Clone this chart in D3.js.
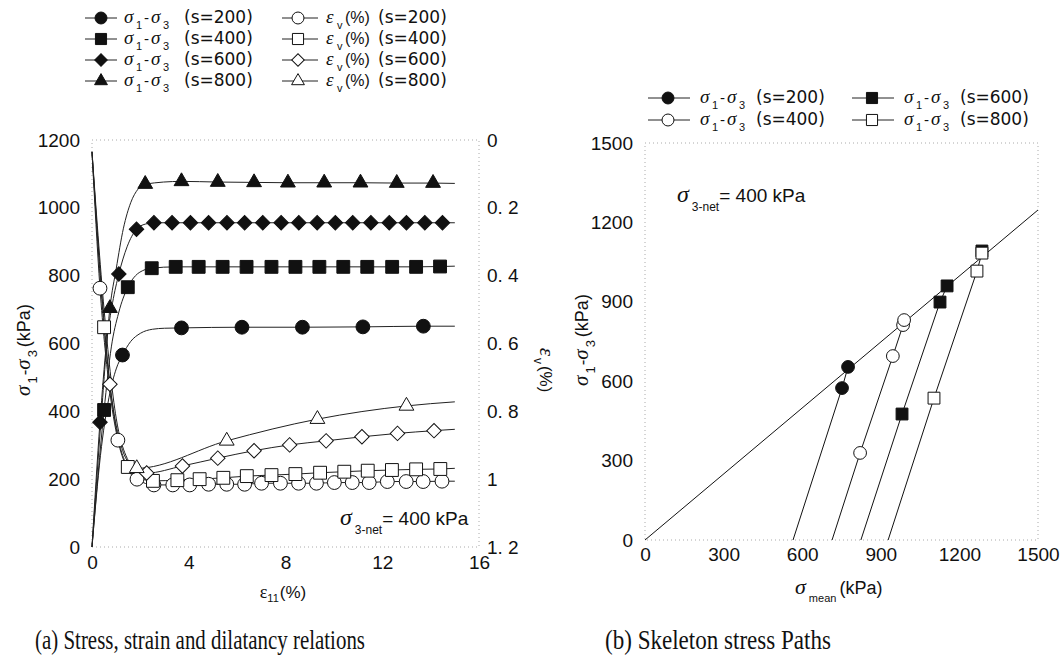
<!DOCTYPE html>
<html>
<head>
<meta charset="utf-8">
<script src="https://cdn.jsdelivr.net/npm/d3@7"></script>
<style>
  body { margin: 0; background: #fff; }
  svg { display: block; }
</style>
</head>
<body>
<svg id="fig" width="1063" height="664"></svg>
<script>
// ---------- Panel (a): stress–strain and dilatancy, σ3-net = 400 kPa ----------
const strainTicks = [0, 4, 8, 12, 16];
const devTicks = [0, 200, 400, 600, 800, 1000, 1200];
const volTicks = [0, 0.2, 0.4, 0.6, 0.8, 1.0, 1.2];
const volTickLabels = ["0", "0. 2", "0. 4", "0. 6", "0. 8", "1", "1. 2"];
const suctions = [200, 400, 600, 800];

// deviator stress σ1−σ3 (kPa) vs ε11 (%) — measured points
const devMarks200 = [[1.26, 566], [3.7, 646], [6.2, 648], [8.7, 648], [11.2, 649], [13.7, 651]];
const devMarks400 = [[0.5, 404], [1.48, 766], [2.47, 822], [3.46, 826], [4.41, 826], [5.40, 826], [6.39, 826],
  [7.42, 826], [8.41, 826], [9.40, 826], [10.39, 826], [11.38, 826], [12.41, 826], [13.40, 826], [14.39, 827]];
const devMarks600 = [[0.33, 368], [1.11, 805], [1.84, 937], [2.56, 956], [3.31, 956], [4.07, 956], [4.82, 956],
  [5.58, 956], [6.31, 956], [7.06, 956], [7.82, 956], [8.55, 956], [9.31, 956], [10.06, 956], [10.78, 956],
  [11.53, 956], [12.29, 956], [13.0, 956], [13.76, 956], [14.49, 956]];
const devMarks800 = [[0.74, 704], [2.2, 1070], [3.7, 1078], [5.2, 1076], [6.7, 1075], [8.1, 1074], [9.6, 1074],
  [11.1, 1074], [12.6, 1073], [14.1, 1073]];
// extra vertices of the fitted curves (unmarked)
const devBend200 = [[0, 0], [0.35, 270], [0.7, 440], [1.0, 525], [1.6, 606], [2.0, 630], [2.5, 642], [3.0, 645], [15, 651]];
const devBend400 = [[0, 0], [0.8, 590], [1.1, 690], [1.8, 800], [2.1, 815], [15, 828]];
const devBend600 = [[0, 0], [0.6, 600], [0.85, 720], [1.45, 885], [2.2, 952], [15, 956]];
const devBend800 = [[0, 0], [0.4, 400], [1.0, 820], [1.3, 940], [1.6, 1015], [1.9, 1055], [15, 1072]];

// volumetric strain εv (%) vs ε11 (%) — measured points
const volMarks200 = [[0.33, 0.437], [1.07, 0.885], [1.86, 1.0], [2.56, 1.017], [3.34, 1.017], [4.04, 1.017],
  [4.82, 1.015], [5.57, 1.015], [6.31, 1.015], [7.01, 1.012], [7.79, 1.012], [8.54, 1.012], [9.28, 1.012],
  [10.02, 1.01], [10.76, 1.01], [11.46, 1.01], [12.21, 1.007], [12.99, 1.007], [13.69, 1.007], [14.47, 1.006]];
const volMarks400 = [[0.5, 0.552], [1.48, 0.964], [2.52, 1.005], [3.53, 1.003], [4.45, 1.0], [5.43, 0.996],
  [6.4, 0.991], [7.42, 0.988], [8.41, 0.985], [9.43, 0.981], [10.43, 0.978], [11.4, 0.975], [12.4, 0.973],
  [13.4, 0.971], [14.4, 0.97]];
const volMarks600 = [[0.74, 0.72], [2.26, 0.982], [3.74, 0.961], [5.2, 0.938], [6.7, 0.916], [8.17, 0.899],
  [9.68, 0.887], [11.16, 0.875], [12.63, 0.865], [14.14, 0.857]];
const volMarks800 = [[1.85, 0.968], [5.57, 0.887], [9.32, 0.823], [13.0, 0.784]];
const volBend200 = [[0, 0.035], [0.7, 0.72], [1.4, 0.96], [15, 1.006]];
const volBend400 = [[0, 0.035], [1.0, 0.85], [2.0, 0.998], [15, 0.968]];
const volBend600 = [[0, 0.035], [0.35, 0.4], [1.2, 0.9], [1.7, 0.965], [15, 0.853]];
const volBend800 = [[0, 0.035], [0.5, 0.5], [1.0, 0.82], [1.4, 0.93], [15, 0.772]];

// ---------- Panel (b): skeleton stress paths ----------
const meanTicks = [0, 300, 600, 900, 1200, 1500];
const devTicksB = [0, 300, 600, 900, 1200, 1500];
const failureLine = [[0, 0], [1500, 1247]];
const pathStart = [565, 714, 824, 928];            // σmean at the start of shearing (kPa)
const pathMarks200 = [[752, 574], [775, 654]];
const pathMarks400 = [[821, 329], [946, 695], [985, 812], [989, 831]];
const pathMarks600 = [[981, 476], [1126, 899], [1153, 960]];
const pathExtra600 = [[1286, 1092]];
const pathMarks800 = [[1103, 536], [1267, 1016], [1286, 1084]];

// ---------- drawing ----------
const svg = d3.select("#fig");
svg.append("rect").attr("width", 1063).attr("height", 664).attr("fill", "#fff");

const SANS = "'Liberation Sans', Arial, sans-serif";
const WIDE = "'DejaVu Sans', sans-serif";
const SERIF = "'Liberation Serif', 'Times New Roman', serif";
const INK = "#111";

const sym = {
  circle: { type: d3.symbolCircle, rot: 0 },
  square: { type: d3.symbolSquare, rot: 0 },
  diamond: { type: d3.symbolSquare, rot: 45 },
  triangle: { type: d3.symbolTriangle, rot: 0 }
};
const symSize = { circle: 150, square: 165, diamond: 105, triangle: 95 };

function drawMarks(g, data, sx, sy, kind, filled, scale = 1) {
  const gen = d3.symbol().type(sym[kind].type).size(symSize[kind] * scale);
  g.selectAll(null).data(data).join("path")
    .attr("d", gen)
    .attr("transform", d => `translate(${sx(d[0])},${sy(d[1])}) rotate(${sym[kind].rot})`)
    .attr("fill", filled ? INK : "#fff")
    .attr("stroke", INK)
    .attr("stroke-width", 1);
}

function styleAxis(g, size) {
  g.select(".domain").remove();
  g.attr("font-family", SANS).attr("font-size", size);
  g.selectAll("text").attr("fill", INK);
}

function frame(g, sx, sy) {
  const [x0, x1] = sx.range(), [y0, y1] = sy.range();
  g.append("rect")
    .attr("x", Math.min(x0, x1)).attr("y", Math.min(y0, y1))
    .attr("width", Math.abs(x1 - x0)).attr("height", Math.abs(y1 - y0))
    .attr("fill", "none").attr("stroke", "#aaa").attr("stroke-width", 1)
    .attr("stroke-dasharray", "1,3");
}

// "σ1-σ3" laid out piece by piece from x0 along the text baseline
function sigmaDiff(t, x0, big, small, drop) {
  t.append("tspan").attr("x", x0).attr("font-family", SERIF).attr("font-style", "italic")
    .attr("font-size", big).text("σ");
  t.append("tspan").attr("x", x0 + 12).attr("font-size", small).attr("dy", drop).text("1");
  t.append("tspan").attr("x", x0 + 20).attr("font-size", big * 0.8).attr("dy", -drop).text("-");
  t.append("tspan").attr("x", x0 + 27).attr("font-family", SERIF).attr("font-style", "italic")
    .attr("font-size", big).text("σ");
  t.append("tspan").attr("x", x0 + 39).attr("font-size", small).attr("dy", drop).text("3");
}
// same, for rotated labels (positions relative to the text's own origin)
function sigmaDiffFlow(t, big, small, drop) {
  t.append("tspan").attr("font-family", SERIF).attr("font-style", "italic").attr("font-size", big).text("σ");
  t.append("tspan").attr("font-size", small).attr("dx", 2).attr("dy", drop).text("1");
  t.append("tspan").attr("font-size", big * 0.8).attr("dx", 1).attr("dy", -drop).text("-");
  t.append("tspan").attr("font-family", SERIF).attr("font-style", "italic").attr("font-size", big).text("σ");
  t.append("tspan").attr("font-size", small).attr("dx", 2).attr("dy", drop).text("3");
}

const plain = d3.format("d");

// ===== Panel (a) =====
const gA = svg.append("g");
const xA = d3.scaleLinear().domain([0, 16]).range([92, 479]);
const yA = d3.scaleLinear().domain([0, 1200]).range([547, 140]);
const yV = d3.scaleLinear().domain([0, 1.2]).range([140, 547]);

frame(gA, xA, yA);
gA.append("g").attr("transform", "translate(92,0)")
  .call(d3.axisLeft(yA).tickValues(devTicks).tickFormat(plain).tickSize(0).tickPadding(12))
  .call(g => styleAxis(g, 19));
gA.append("g").attr("transform", "translate(0,547)")
  .call(d3.axisBottom(xA).tickValues(strainTicks).tickFormat(plain).tickSize(0).tickPadding(9))
  .call(g => styleAxis(g, 19));
gA.append("g").attr("transform", "translate(479,0)")
  .call(d3.axisRight(yV).tickValues(volTicks).tickFormat((d, i) => volTickLabels[i]).tickSize(0).tickPadding(8))
  .call(g => styleAxis(g, 19));

const kinds = ["circle", "square", "diamond", "triangle"];
const devSeries = [
  [devMarks200, devBend200], [devMarks400, devBend400], [devMarks600, devBend600], [devMarks800, devBend800]
];
const volSeries = [
  [volMarks200, volBend200], [volMarks400, volBend400], [volMarks600, volBend600], [volMarks800, volBend800]
];
const lineDev = d3.line().x(d => xA(d[0])).y(d => yA(d[1])).curve(d3.curveMonotoneX);
const lineVol = d3.line().x(d => xA(d[0])).y(d => yV(d[1])).curve(d3.curveMonotoneX);
const byX = (a, b) => a[0] - b[0];

volSeries.forEach(([m, b]) => {
  gA.append("path").attr("d", lineVol(m.concat(b).sort(byX)))
    .attr("fill", "none").attr("stroke", "#222").attr("stroke-width", 1);
});
devSeries.forEach(([m, b]) => {
  gA.append("path").attr("d", lineDev(m.concat(b).sort(byX)))
    .attr("fill", "none").attr("stroke", "#222").attr("stroke-width", 1);
});
volSeries.forEach(([m], i) => drawMarks(gA.append("g"), m, xA, yV, kinds[i], false));
devSeries.forEach(([m], i) => drawMarks(gA.append("g"), m, xA, yA, kinds[i], true));

// axis titles
{
  const t = gA.append("text").attr("transform", "translate(30,350) rotate(-90)")
    .attr("text-anchor", "middle").attr("font-family", SANS).attr("fill", INK);
  sigmaDiffFlow(t, 21, 13, 7);
  t.append("tspan").attr("font-size", 18).attr("dx", 3).attr("dy", -7).text("(kPa)");
}
{
  const t = gA.append("text").attr("transform", "translate(540,370) rotate(90)")
    .attr("text-anchor", "middle").attr("font-family", SANS).attr("fill", INK);
  t.append("tspan").attr("font-family", SERIF).attr("font-style", "italic").attr("font-size", 21).text("ε");
  t.append("tspan").attr("font-size", 12).attr("dx", 2).attr("dy", 6).text("v");
  t.append("tspan").attr("font-size", 17).attr("dx", 2).attr("dy", -6).text("(%)");
}
{
  const t = gA.append("text").attr("x", 283).attr("y", 598)
    .attr("text-anchor", "middle").attr("font-family", SANS).attr("fill", INK);
  t.append("tspan").attr("font-family", SERIF).attr("font-size", 18).text("ε");
  t.append("tspan").attr("font-size", 11).attr("dy", 4).text("11");
  t.append("tspan").attr("font-size", 17).attr("dx", 1).attr("dy", -4).text("(%)");
}
{
  const t = gA.append("text").attr("x", 340).attr("y", 525).attr("font-family", SANS).attr("fill", INK);
  t.append("tspan").attr("font-family", SERIF).attr("font-style", "italic").attr("font-size", 24).text("σ");
  t.append("tspan").attr("font-size", 12).attr("dx", 3).attr("dy", 9).text("3-net");
  t.append("tspan").attr("font-size", 19).attr("dy", -9).text("= 400 kPa");
}

// legend (a)
const legA = svg.append("g");
suctions.forEach((s, i) => {
  const cy = 18 + i * 21;
  // deviator stress entry
  legA.append("line").attr("x1", 85).attr("x2", 117).attr("y1", cy).attr("y2", cy)
    .attr("stroke", "#222").attr("stroke-width", 1);
  drawMarks(legA.append("g"), [[101, cy]], d => d, d => d, kinds[i], true, 0.75);
  const t = legA.append("text").attr("y", cy + 5).attr("font-family", SANS).attr("fill", INK);
  sigmaDiff(t, 124, 19, 11, 6);
  t.append("tspan").attr("x", 184).attr("dy", -6).attr("font-family", WIDE).attr("font-size", 17).text(`(s=${s})`);
  // volumetric strain entry
  legA.append("line").attr("x1", 282).attr("x2", 318).attr("y1", cy).attr("y2", cy)
    .attr("stroke", "#222").attr("stroke-width", 1);
  drawMarks(legA.append("g"), [[298, cy]], d => d, d => d, kinds[i], false, 0.75);
  const u = legA.append("text").attr("y", cy + 5).attr("font-family", SANS).attr("fill", INK);
  u.append("tspan").attr("x", 326).attr("font-family", SERIF).attr("font-style", "italic").attr("font-size", 19).text("ε");
  u.append("tspan").attr("x", 337).attr("font-size", 11).attr("dy", 6).text("v");
  u.append("tspan").attr("x", 345).attr("font-size", 16).attr("dy", -6).text("(%)");
  u.append("tspan").attr("x", 378).attr("font-family", WIDE).attr("font-size", 17).text(`(s=${s})`);
});

// ===== Panel (b) =====
const gB = svg.append("g");
const xB = d3.scaleLinear().domain([0, 1500]).range([645, 1038]);
const yB = d3.scaleLinear().domain([0, 1500]).range([540, 143]);

frame(gB, xB, yB);
gB.append("g").attr("transform", "translate(645,0)")
  .call(d3.axisLeft(yB).tickValues(devTicksB).tickFormat(plain).tickSize(0).tickPadding(12))
  .call(g => styleAxis(g, 19));
gB.append("g").attr("transform", "translate(0,540)")
  .call(d3.axisBottom(xB).tickValues(meanTicks).tickFormat(plain).tickSize(0).tickPadding(8))
  .call(g => styleAxis(g, 19));

const lineB = d3.line().x(d => xB(d[0])).y(d => yB(d[1]));
gB.append("path").attr("d", lineB(failureLine))
  .attr("fill", "none").attr("stroke", "#111").attr("stroke-width", 1);

const pathSets = [
  { marks: pathMarks200, kind: "circle", filled: true },
  { marks: pathMarks400, kind: "circle", filled: false },
  { marks: pathMarks600, kind: "square", filled: true },
  { marks: pathMarks800, kind: "square", filled: false }
];
pathSets.forEach((p, i) => {
  gB.append("path").attr("d", lineB([[pathStart[i], 0]].concat(p.marks)))
    .attr("fill", "none").attr("stroke", "#111").attr("stroke-width", 1);
});
drawMarks(gB.append("g"), pathExtra600, xB, yB, "square", true, 0.85);
pathSets.forEach(p => drawMarks(gB.append("g"), p.marks, xB, yB, p.kind, p.filled, 0.85));

{
  const t = gB.append("text").attr("transform", "translate(588,340) rotate(-90)")
    .attr("text-anchor", "middle").attr("font-family", SANS).attr("fill", INK);
  sigmaDiffFlow(t, 21, 13, 7);
  t.append("tspan").attr("font-size", 18).attr("dx", 3).attr("dy", -7).text("(kPa)");
}
{
  const t = gB.append("text").attr("x", 795).attr("y", 594).attr("font-family", SANS).attr("fill", INK);
  t.append("tspan").attr("font-family", SERIF).attr("font-style", "italic").attr("font-size", 22).text("σ");
  t.append("tspan").attr("font-size", 11).attr("dx", 3).attr("dy", 8).text("mean");
  t.append("tspan").attr("font-size", 18).attr("dx", 3).attr("dy", -8).text("(kPa)");
}
{
  const t = gB.append("text").attr("x", 677).attr("y", 202).attr("font-family", SANS).attr("fill", INK);
  t.append("tspan").attr("font-family", SERIF).attr("font-style", "italic").attr("font-size", 24).text("σ");
  t.append("tspan").attr("font-size", 12).attr("dx", 3).attr("dy", 9).text("3-net");
  t.append("tspan").attr("font-size", 19).attr("dy", -9).text("= 400 kPa");
}

// legend (b): two columns
const legB = svg.append("g");
const legBOrder = [0, 2, 1, 3];   // s=200, s=600 / s=400, s=800
legBOrder.forEach((k, j) => {
  const col = j % 2, row = Math.floor(j / 2);
  const cy = 98 + row * 22;
  const lx = col === 0 ? 648 : 852;
  const p = pathSets[k];
  legB.append("line").attr("x1", lx).attr("x2", lx + 42).attr("y1", cy).attr("y2", cy)
    .attr("stroke", "#222").attr("stroke-width", 1);
  drawMarks(legB.append("g"), [[lx + 20, cy]], d => d, d => d, p.kind, p.filled, 0.75);
  const t = legB.append("text").attr("y", cy + 5).attr("font-family", SANS).attr("fill", INK);
  sigmaDiff(t, lx + 52, 19, 11, 6);
  t.append("tspan").attr("x", lx + 108).attr("dy", -6).attr("font-family", WIDE).attr("font-size", 17)
    .text(`(s=${suctions[k]})`);
});

// captions
svg.append("text").attr("x", 35).attr("y", 649).attr("font-family", SERIF).attr("font-size", 27)
  .attr("fill", INK).attr("textLength", 330).attr("lengthAdjust", "spacingAndGlyphs")
  .text("(a) Stress, strain and dilatancy relations");
svg.append("text").attr("x", 605).attr("y", 649).attr("font-family", SERIF).attr("font-size", 27)
  .attr("fill", INK).attr("textLength", 226).attr("lengthAdjust", "spacingAndGlyphs")
  .text("(b) Skeleton stress Paths");
</script>
</body>
</html>
